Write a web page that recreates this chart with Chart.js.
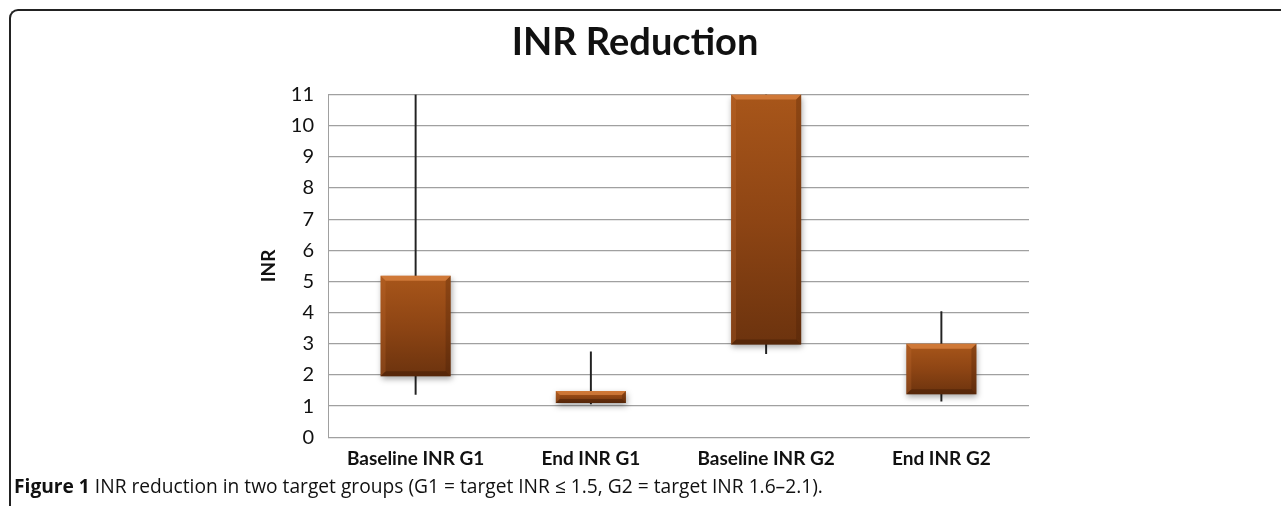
<!DOCTYPE html>
<html>
<head>
<meta charset="utf-8">
<script src="https://cdn.jsdelivr.net/npm/chart.js@4.4.1/dist/chart.umd.min.js"></script>
<style>
  html, body { margin: 0; padding: 0; background: #fff; }
  body { width: 1281px; height: 506px; position: relative; overflow: hidden; }
  #frame { position: absolute; left: 9px; top: 9px; width: 1290px; height: 520px;
           border-left: 2px solid #222; border-top: 2px solid #222; border-top-left-radius: 9px; }
  #wrap { position: absolute; left: 0; top: 0; width: 1281px; height: 480px; }
  #caption { position: absolute; left: 14px; top: 473px; font-family: "Open Sans", sans-serif;
             font-size: 19.2px; line-height: 26px; color: #111; white-space: nowrap; }
  #caption b { font-weight: 700; }
</style>
</head>
<body>
<div id="frame"></div>
<div id="wrap"><canvas id="c" width="1281" height="480"></canvas></div>
<div id="caption"><b>Figure 1</b> INR reduction in two target groups (G1 = target INR ≤ 1.5, G2 = target INR 1.6–2.1).</div>
<script>
const categories = ['Baseline INR G1', 'End INR G1', 'Baseline INR G2', 'End INR G2'];
const boxLow = [1.96, 1.10, 2.98, 1.38];
const boxHigh = [5.18, 1.48, 11.0, 3.0];
const whiskerLow = [1.37, 1.07, 2.68, 1.16];
const whiskerHigh = [11.0, 2.74, 11.0, 4.03];
const yTicks = [0, 1, 2, 3, 4, 5, 6, 7, 8, 9, 10, 11];

const boxData = categories.map((c, i) => [boxLow[i], boxHigh[i]]);
const whiskerData = categories.map((c, i) => [whiskerLow[i], whiskerHigh[i]]);

function boxFill(ctx) {
  const chart = ctx.chart;
  const area = chart.chartArea;
  if (!area || ctx.dataIndex === undefined) return '#8a4314';
  const y = chart.scales.y;
  const top = y.getPixelForValue(boxHigh[ctx.dataIndex]);
  const bot = y.getPixelForValue(boxLow[ctx.dataIndex]);
  const g = chart.ctx.createLinearGradient(0, top, 0, bot);
  g.addColorStop(0, '#a8561a');
  g.addColorStop(0.5, '#8e4514');
  g.addColorStop(1, '#6c330e');
  return g;
}

const bevelPlugin = {
  id: 'bevel',
  beforeDatasetDraw(chart, args) {
    if (args.index === 1) {
      const c = chart.ctx;
      c.save();
      c.shadowColor = 'rgba(0,0,0,0.35)';
      c.shadowBlur = 6;
      c.shadowOffsetX = 1;
      c.shadowOffsetY = 3;
    }
  },
  afterDatasetDraw(chart, args) {
    if (args.index === 1) {
      const c = chart.ctx;
      c.restore();
      const meta = chart.getDatasetMeta(1);
      meta.data.forEach(bar => {
        const p = bar.getProps(['x', 'y', 'base', 'width'], true);
        const l = p.x - p.width / 2, r = p.x + p.width / 2;
        const t = Math.min(p.y, p.base), b = Math.max(p.y, p.base);
        const d = Math.min(5, (b - t) / 3);
        c.save();
        c.fillStyle = 'rgba(240,150,80,0.55)';
        c.beginPath(); c.moveTo(l, t); c.lineTo(r, t); c.lineTo(r - d, t + d); c.lineTo(l + d, t + d); c.closePath(); c.fill();
        c.fillStyle = 'rgba(60,25,5,0.45)';
        c.beginPath(); c.moveTo(l, b); c.lineTo(r, b); c.lineTo(r - d, b - d); c.lineTo(l + d, b - d); c.closePath(); c.fill();
        c.fillStyle = 'rgba(60,25,5,0.25)';
        c.beginPath(); c.moveTo(r, t); c.lineTo(r, b); c.lineTo(r - d, b - d); c.lineTo(r - d, t + d); c.closePath(); c.fill();
        c.fillStyle = 'rgba(200,110,50,0.25)';
        c.beginPath(); c.moveTo(l, t); c.lineTo(l, b); c.lineTo(l + d, b - d); c.lineTo(l + d, t + d); c.closePath(); c.fill();
        c.restore();
      });
    }
  }
};

new Chart(document.getElementById('c'), {
  type: 'bar',
  data: {
    labels: categories,
    datasets: [
      { label: 'Range', data: whiskerData, backgroundColor: '#222', barThickness: 1.3, grouped: false, order: 2 },
      { label: 'Box', data: boxData, backgroundColor: boxFill, barPercentage: 0.4, categoryPercentage: 1.0, grouped: false, order: 1 }
    ]
  },
  plugins: [bevelPlugin],
  options: {
    responsive: false,
    animation: false,
    events: [],
    layout: { padding: { left: 241, right: 252, top: 4, bottom: 0 } },
    plugins: {
      legend: { display: false },
      tooltip: { enabled: false },
      title: {
        display: true, text: 'INR Reduction', color: '#111',
        font: { family: 'Lato', size: 38, weight: 'bold' },
        padding: { top: 16, bottom: 29 }
      }
    },
    scales: {
      x: {
        grid: { display: false, drawTicks: false },
        border: { display: true, color: '#a0a0a0' },
        ticks: { color: '#111', font: { family: 'Lato', size: 19, weight: 'bold' }, padding: 10 }
      },
      y: {
        min: 0, max: 11,
        afterBuildTicks(scale) { scale.ticks = yTicks.map(v => ({ value: v })); },
        afterFit(scale) { scale.width = 87; },
        grid: { color: '#a0a0a0', lineWidth: 1.3, drawTicks: false },
        border: { display: true, color: '#a0a0a0' },
        ticks: { color: '#111', font: { family: 'Lato', size: 20 }, padding: 14 },
        title: { display: true, text: 'INR', color: '#111', font: { family: 'Lato', size: 19, weight: 'bold' }, padding: { top: 16, bottom: 0 } }
      }
    }
  }
});
</script>
</body>
</html>
